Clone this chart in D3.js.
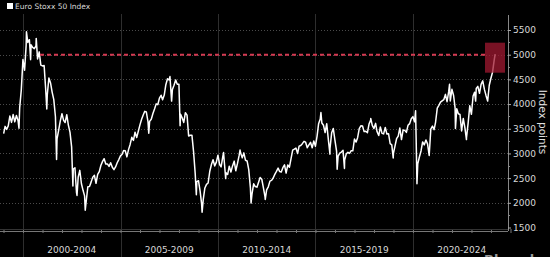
<!DOCTYPE html>
<html>
<head>
<meta charset="utf-8">
<script src="https://cdn.jsdelivr.net/npm/d3@7"></script>
<style>
  body { margin: 0; background: #000; }
  svg { display: block; }
  text { font-family: "DejaVu Sans", sans-serif; }
</style>
</head>
<body>
<svg id="chart"></svg>
<script>
// month-end closes, one row per year, Jan..Dec
var years = [1999, 2000, 2001, 2002, 2003, 2004, 2005, 2006, 2007, 2008, 2009, 2010, 2011,
             2012, 2013, 2014, 2015, 2016, 2017, 2018, 2019, 2020, 2021, 2022, 2023, 2024]
var monthlyCloses = [
  [3548, 3486, 3559, 3757, 3629, 3788, 3639, 3769, 3669, 3922, 4282, 4904],
  [4685, 5183, 5249, 5303, 5200, 5146, 5122, 5176, 4915, 5057, 4790, 4772],
  [4780, 4319, 4185, 4526, 4427, 4243, 4091, 3744, 3297, 3478, 3658, 3806],
  [3670, 3625, 3784, 3575, 3425, 3133, 2685, 2710, 2204, 2519, 2657, 2386],
  [2248, 2140, 2036, 2325, 2330, 2419, 2520, 2556, 2395, 2575, 2631, 2761],
  [2839, 2894, 2787, 2788, 2737, 2811, 2720, 2671, 2726, 2811, 2876, 2951],
  [2984, 3058, 3056, 2930, 3077, 3182, 3326, 3263, 3429, 3321, 3449, 3579],
  [3692, 3775, 3853, 3839, 3637, 3649, 3692, 3809, 3900, 4004, 3987, 4120],
  [4178, 4088, 4182, 4392, 4512, 4489, 4315, 4294, 4381, 4489, 4400, 4400],
  [3792, 3724, 3628, 3826, 3777, 3353, 3367, 3366, 3038, 2592, 2430, 2448],
  [2237, 1977, 2071, 2301, 2374, 2401, 2639, 2775, 2872, 2747, 2819, 2965],
  [2776, 2728, 2931, 2817, 2610, 2573, 2742, 2623, 2748, 2844, 2650, 2793],
  [2954, 3013, 2910, 3011, 2861, 2848, 2671, 2302, 2179, 2385, 2330, 2317],
  [2416, 2512, 2477, 2306, 2118, 2264, 2325, 2440, 2454, 2503, 2575, 2636],
  [2703, 2633, 2624, 2712, 2769, 2603, 2768, 2721, 2893, 3068, 3087, 3109],
  [2998, 3149, 3162, 3198, 3245, 3228, 3116, 3173, 3226, 3114, 3251, 3146],
  [3351, 3599, 3697, 3616, 3570, 3424, 3601, 3270, 3101, 3418, 3506, 3268],
  [3045, 2946, 3005, 3028, 3063, 2865, 2991, 3023, 3002, 3055, 3052, 3291],
  [3231, 3319, 3501, 3560, 3555, 3442, 3449, 3421, 3595, 3674, 3570, 3504],
  [3609, 3439, 3362, 3537, 3407, 3396, 3525, 3393, 3399, 3198, 3173, 3001],
  [3159, 3298, 3352, 3515, 3280, 3474, 3467, 3427, 3569, 3604, 3703, 3745],
  [3641, 3329, 2787, 2928, 3050, 3234, 3174, 3272, 3194, 2958, 3493, 3553],
  [3481, 3636, 3919, 3975, 4039, 4064, 4089, 4196, 4048, 4251, 4063, 4298],
  [4174, 3924, 3903, 3803, 3789, 3455, 3708, 3517, 3318, 3618, 3965, 3794],
  [4163, 4238, 4315, 4359, 4218, 4399, 4471, 4297, 4175, 4061, 4382, 4522],
  [4648, 4878]
]
// intra-month highs and lows
var extremeDates = ["1999-10-18", "2000-03-06", "2000-05-23", "2000-09-05", "2001-03-22", "2001-09-21",
  "2002-07-24", "2002-10-09", "2003-03-12", "2006-06-14", "2007-07-16", "2007-08-16",
  "2008-01-22", "2008-11-21", "2009-03-09", "2010-04-15", "2010-05-25", "2011-02-18",
  "2011-09-12", "2012-06-04", "2015-04-13", "2015-09-29", "2016-02-11", "2016-06-27",
  "2017-11-01", "2018-12-27", "2020-02-19", "2020-03-16", "2021-11-16", "2022-03-07",
  "2022-09-29", "2023-03-20", "2024-03-20"]
var extremeValues = [3510, 5464, 4900, 5330, 3900, 2877,
  2340, 2150, 1850, 3410, 4557, 4060,
  3560, 2165, 1810, 3017, 2490, 3068,
  1995, 2068, 3828, 2985, 2680, 2697,
  3708, 2909, 3865, 2385, 4401, 3505,
  3280, 4060, 5010]

var yTicks = [1500, 2000, 2500, 3000, 3500, 4000, 4500, 5000, 5500]
var periodLabels = ["2000-2004", "2005-2009", "2010-2014", "2015-2019", "2020-2024"]
var periodStarts = [2000, 2005, 2010, 2015, 2020]
var targetLevel = 5000
var seriesName = "Euro Stoxx 50 Index"
var axisTitle = "Index points"

var parse = d3.timeParse("%Y-%m-%d")
var points = []
monthlyCloses.forEach(function(row, i) {
  row.forEach(function(v, m) {
    points.push({date: new Date(years[i], m + 1, 0), value: v})
  })
})
extremeDates.forEach(function(d, i) {
  points.push({date: parse(d), value: extremeValues[i]})
})
points.sort(function(a, b) { return a.date - b.date })
points.unshift({date: new Date(1999, 0, 4), value: 3400})

var width = 550, height = 257
var svg = d3.select("#chart").attr("width", width).attr("height", height)
svg.append("rect").attr("width", width).attr("height", height).attr("fill", "#000")

var x = d3.scaleTime()
  .domain([new Date(1999, 0, 1), new Date(2025, 0, 1)])
  .range([3.5, 510.5])
var y = d3.scaleLinear().domain([1500, 5500]).range([227.5, 30])
var axisX = 508

// horizontal dotted gridlines
svg.append("g").selectAll("line")
  .data(yTicks.slice(1))
  .enter().append("line")
  .attr("x1", 0).attr("x2", axisX)
  .attr("y1", function(d) { return Math.round(y(d)) + 0.5 })
  .attr("y2", function(d) { return Math.round(y(d)) + 0.5 })
  .attr("stroke", "#4a4a4a").attr("stroke-width", 1)
  .attr("stroke-dasharray", "1,2")

// period separators
svg.append("g").selectAll("line")
  .data(periodStarts)
  .enter().append("line")
  .attr("x1", function(d) { return Math.round(x(new Date(d, 0, 1))) + 0.5 })
  .attr("x2", function(d) { return Math.round(x(new Date(d, 0, 1))) + 0.5 })
  .attr("y1", 14).attr("y2", 257)
  .attr("stroke", "#2e2e2e").attr("stroke-width", 1)

// bottom axis
var xAxis = d3.axisBottom(x)
  .ticks(d3.timeYear.every(1))
  .tickSize(2)
  .tickFormat("")
var gx = svg.append("g").attr("transform", "translate(0,231)").call(xAxis)
gx.select(".domain").attr("stroke", "#777").attr("d", "M0,0.5H" + axisX)
gx.selectAll(".tick line").attr("stroke", "#777").attr("y1", -2)
svg.append("line").attr("x1", 0).attr("x2", axisX).attr("y1", 229.5).attr("y2", 229.5)
  .attr("stroke", "#333")

svg.append("g").selectAll("text")
  .data(periodLabels)
  .enter().append("text")
  .attr("x", function(d, i) {
    return (x(new Date(periodStarts[i], 0, 1)) + x(new Date(periodStarts[i] + 5, 0, 1))) / 2
  })
  .attr("y", 253)
  .attr("text-anchor", "middle")
  .attr("fill", "#d8d8d8")
  .attr("font-size", 9)
  .text(function(d) { return d })

// price line
var line = d3.line()
  .x(function(d) { return x(d.date) })
  .y(function(d) { return y(d.value) })
svg.append("path")
  .datum(points)
  .attr("d", line)
  .attr("fill", "none")
  .attr("stroke", "#fff")
  .attr("stroke-width", 1.5)
  .attr("stroke-linejoin", "round")

// 5000 level
svg.append("line")
  .attr("x1", 40).attr("x2", 486)
  .attr("y1", y(targetLevel)).attr("y2", y(targetLevel))
  .attr("stroke", "#d43a52").attr("stroke-width", 2)
  .attr("stroke-dasharray", "4,3")

svg.append("rect")
  .attr("x", 485).attr("y", y(targetLevel) - 12)
  .attr("width", 20).attr("height", 30)
  .attr("fill", "#a01830").attr("opacity", 0.75)

// right axis
var yAxis = d3.axisRight(y)
  .tickValues(yTicks)
  .tickSize(3)
  .tickFormat(d3.format("d"))
var gy = svg.append("g").attr("transform", "translate(" + axisX + ",0)").call(yAxis)
gy.select(".domain").attr("stroke", "#888").attr("d", "M0.5,15V231")
gy.selectAll(".tick line").attr("stroke", "#aaa")
gy.selectAll(".tick text")
  .attr("fill", "#d8d8d8")
  .attr("font-size", 9)
  .attr("font-family", "DejaVu Sans, sans-serif")
  .attr("x", 5)

var minor = d3.range(1750, 5500, 500)
svg.append("g").selectAll("line")
  .data(minor)
  .enter().append("line")
  .attr("x1", axisX).attr("x2", axisX + 2)
  .attr("y1", function(d) { return Math.round(y(d)) + 0.5 })
  .attr("y2", function(d) { return Math.round(y(d)) + 0.5 })
  .attr("stroke", "#888")

svg.append("text")
  .attr("transform", "translate(539,122) rotate(90)")
  .attr("text-anchor", "middle")
  .attr("fill", "#e0e0e0")
  .attr("font-size", 10.5)
  .text(axisTitle)

// legend
svg.append("rect").attr("x", 7).attr("y", 3).attr("width", 6).attr("height", 6).attr("fill", "#fff")
svg.append("text")
  .attr("x", 15).attr("y", 9)
  .attr("fill", "#d8d8d8")
  .attr("font-size", 7.5)
  .text(seriesName)

// source watermark, cropped at the bottom edge as in the source image
svg.append("text")
  .attr("x", 484).attr("y", 264)
  .attr("fill", "#9a9a9a")
  .attr("font-size", 13)
  .attr("font-weight", "bold")
  .text("Bloomberg")
</script>
</body>
</html>
